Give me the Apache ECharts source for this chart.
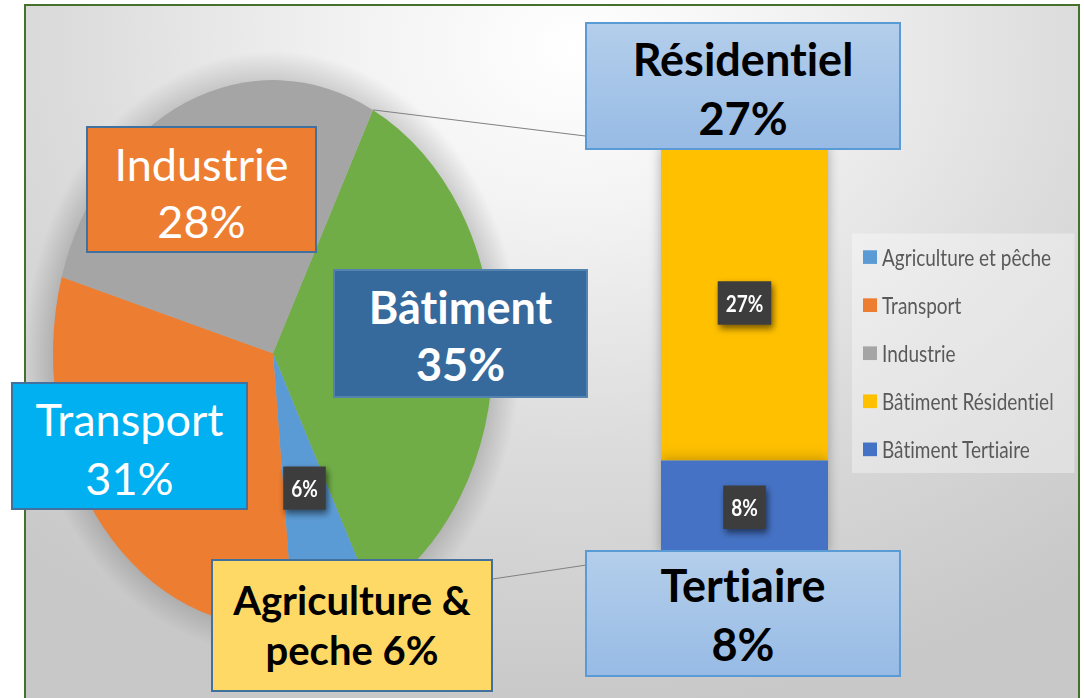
<!DOCTYPE html>
<html>
<head>
<meta charset="utf-8">
<script src="https://cdn.jsdelivr.net/npm/echarts@6/dist/echarts.min.js"></script>
<style>
html, body { margin: 0; padding: 0; background: #fff; }
#wrap { position: relative; width: 1084px; height: 698px; overflow: hidden; }
#frame {
  position: absolute; left: 24px; top: 4px; width: 1056px; height: 700px;
  box-sizing: border-box; border: 2px solid #44722a;
  background:
    radial-gradient(ellipse 248px 302px at 247px 347px, rgba(0,0,0,0.20) 86%, rgba(0,0,0,0) 100%),
    radial-gradient(ellipse 80% 95% at 52% 6%, #ffffff 0%, #f3f3f3 25%, #dcdcdc 60%, #c8c8c8 100%);
}
#pieBar { position: absolute; left: 0; top: 0; width: 1084px; height: 562px; transform: scaleY(1.242); transform-origin: 0 0; }
#boxes { position: absolute; left: 0; top: 0; width: 1084px; height: 698px; }
/* Calibri-like look: no "ti" ligature */
#wrap text { font-variant-ligatures: none !important; }
</style>
</head>
<body>
<div id="wrap">
  <div id="frame"></div>
  <div id="pieBar"></div>
  <div id="boxes"></div>
</div>
<script>
// pie (share of final energy by sector)
const pieNames = ['Bâtiment', 'Agriculture et pêche', 'Transport', 'Industrie']
const pieValues = [35, 6, 31, 28]
const pieColors = ['#70AD47', '#5B9BD5', '#ED7D31', '#A5A5A5']

// bar (split of Bâtiment)
const barNames = ['Bâtiment Tertiaire', 'Bâtiment Résidentiel']
const barValues = [8, 27]
const barColors = ['#4472C4', '#FFC000']

const legendNames = ['Agriculture et pêche', 'Transport', 'Industrie', 'Bâtiment Résidentiel', 'Bâtiment Tertiaire']

// callout boxes
const calloutText = ['Industrie', 'Bâtiment', 'Transport', 'Agriculture &\npeche', 'Résidentiel', 'Tertiaire']
const calloutValues = [pieValues[3], pieValues[0], pieValues[2], pieValues[1], barValues[1], barValues[0]]

const S = 1.242
const PIE_C = [273, 284.5]
const PIE_R = 220
const START = 63
const GRID_LEFT = 661

const tag = {
  color: '#fff',
  fontFamily: 'Lato',
  fontWeight: 'bold',
  fontSize: 19,
  lineHeight: 19,
  backgroundColor: '#3d3d3d',
  padding: [8, 8, 8, 8],
  shadowBlur: 6,
  shadowColor: 'rgba(0,0,0,0.55)',
  shadowOffsetX: 2,
  shadowOffsetY: 3,
  formatter: '{c}%',
}

const chart = echarts.init(document.getElementById('pieBar'), null, { renderer: 'svg' })
const total = barValues.reduce((a, b) => a + b, 0)
chart.setOption({
  animation: false,
  legend: {
    data: legendNames,
    orient: 'vertical',
    left: 852,
    top: 188,
    padding: [9, 20, 9, 11],
    itemGap: 18.7,
    itemWidth: 14,
    itemHeight: 11,
    icon: 'rect',
    selectedMode: false,
    backgroundColor: 'rgba(255,255,255,0.35)',
    textStyle: { fontFamily: 'Lato', fontSize: 19, lineHeight: 20, color: '#595959' },
  },
  grid: { left: GRID_LEFT, width: 167, top: 117, bottom: 116 },
  xAxis: { type: 'category', data: ['Bâtiment'], show: false },
  yAxis: { type: 'value', min: 0, max: total, show: false },
  series: [
    {
      type: 'pie',
      center: PIE_C,
      radius: [0, PIE_R],
      startAngle: START,
      clockwise: true,
      silent: true,
      avoidLabelOverlap: false,
      itemStyle: { borderWidth: 0 },
      labelLine: { show: false },
      label: Object.assign({ position: 'inside' }, tag),
      data: pieNames.map((n, i) => ({
        name: n,
        value: pieValues[i],
        itemStyle: { color: pieColors[i] },
        label: { show: n === 'Agriculture et pêche' },
      })),
    },
    ...barNames.map((n, i) => ({
      name: n,
      type: 'bar',
      stack: 'bat',
      barWidth: '100%',
      silent: true,
      z: 2 + (1 - i),
      data: [barValues[i]],
      itemStyle: { color: barColors[i], shadowBlur: 12, shadowColor: 'rgba(0,0,0,0.3)' },
      label: Object.assign({ show: true, position: 'inside' }, tag),
    })),
  ],
})

// connector lines from the Bâtiment slice edges to the bar corners
const sum = pieValues.reduce((a, b) => a + b, 0)
const t0 = (90 - START) * Math.PI / 180
const t1 = t0 + 2 * Math.PI * pieValues[0] / sum
const edge = t => [PIE_C[0] + PIE_R * Math.sin(t), (PIE_C[1] - PIE_R * Math.cos(t)) * S]
const barTop = chart.convertToPixel({ yAxisIndex: 0 }, total) * S
const barBottom = chart.convertToPixel({ yAxisIndex: 0 }, 0) * S
const p0 = edge(t0)
const p1 = edge(t1)

const boxes = [
  { x: 87, y: 127, w: 229, h: 125, fill: '#ED7D31', stroke: '#41719C', color: '#fff', bold: false, fs: 45, lh: 57, dy: 3 },
  { x: 334, y: 270, w: 253, h: 127, fill: '#376A9C', stroke: '#5583b0', color: '#fff', bold: true, fs: 45, lh: 57, dy: 2 },
  { x: 12, y: 383, w: 235, h: 126, fill: '#00B0F0', stroke: '#41719C', color: '#fff', bold: false, fs: 45, lh: 59, dy: 2 },
  { x: 212, y: 560, w: 280, h: 131, fill: '#FFD966', stroke: '#41719C', color: '#000', bold: true, fs: 40, lh: 50, dy: -1, inline: true },
  { x: 586, y: 23, w: 314, h: 126, fill: 'blue', stroke: '#5B9BD5', color: '#000', bold: true, fs: 45, lh: 59, dy: 2 },
  { x: 586, y: 551, w: 314, h: 125, fill: 'blue', stroke: '#5B9BD5', color: '#000', bold: true, fs: 45, lh: 59, dy: 1 },
]
const paleBlue = { type: 'linear', x: 0, y: 0, x2: 0, y2: 1, colorStops: [{ offset: 0, color: '#B4CEEB' }, { offset: 1, color: '#97BBE5' }] }

const elements = [
  { type: 'line', shape: { x1: p0[0], y1: p0[1], x2: GRID_LEFT, y2: barTop }, style: { stroke: '#808080', lineWidth: 1 } },
  { type: 'line', shape: { x1: p1[0], y1: p1[1], x2: GRID_LEFT, y2: barBottom }, style: { stroke: '#808080', lineWidth: 1 } },
]
boxes.forEach((b, i) => {
  const txt = calloutText[i] + (b.inline ? ' ' : '\n') + calloutValues[i] + '%'
  elements.push({
    type: 'rect',
    shape: { x: b.x, y: b.y, width: b.w, height: b.h },
    style: { fill: b.fill === 'blue' ? paleBlue : b.fill, stroke: b.stroke, lineWidth: 2 },
  })
  elements.push({
    type: 'text',
    x: b.x + b.w / 2,
    y: b.y + b.h / 2 + b.dy,
    style: {
      text: txt,
      fill: b.color,
      fontFamily: 'Lato',
      fontSize: b.fs,
      fontWeight: b.bold ? 'bold' : 'normal',
      lineHeight: b.lh,
      align: 'center',
      verticalAlign: 'middle',
    },
  })
})

const overlay = echarts.init(document.getElementById('boxes'), null, { renderer: 'svg' })
overlay.setOption({ animation: false, graphic: { elements } })
</script>
</body>
</html>
